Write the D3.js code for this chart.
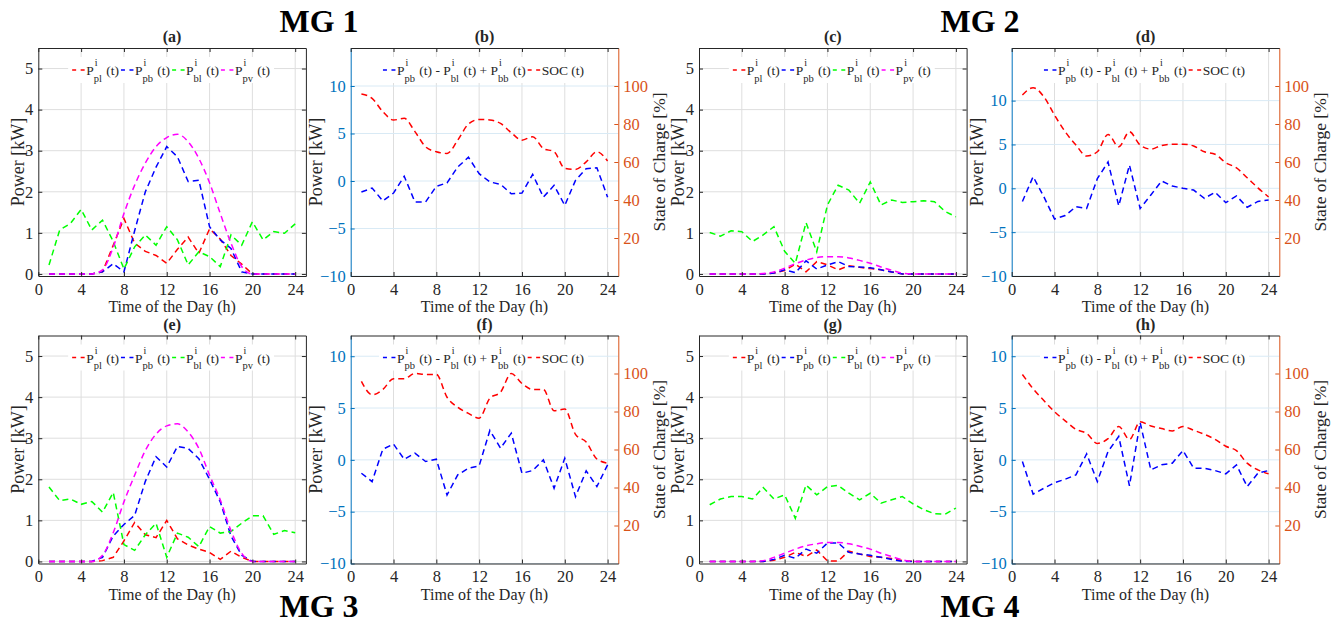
<!DOCTYPE html>
<html>
<head>
<meta charset="utf-8">
<script src="https://cdn.jsdelivr.net/npm/d3@7"></script>
<style>
  body { margin: 0; background: #fff; }
  svg { display: block; font-family: "Liberation Serif", "Times New Roman", serif; }
</style>
</head>
<body>
<div id="chart"></div>
<script>
// hours and tick values
const hours = d3.range(1, 25);
const hourTicks = [0, 4, 8, 12, 16, 20, 24];
const powerTicks = [0, 1, 2, 3, 4, 5];
const netTicks = [-10, -5, 0, 5, 10];
const socTicks = [20, 40, 60, 80, 100];

// MG 1
const mg1Pl = [0, 0, 0, 0, 0, 0.05, 0.7, 1.35, 0.75, 0.55, 0.45, 0.26, 0.6, 0.9, 0.5, 1.1, 0.85, 0.45, 0.24, 0, 0, 0, 0, 0];
const mg1Pb = [0, 0, 0, 0, 0, 0.05, 0.25, 0.05, 1.05, 2.0, 2.6, 3.1, 2.85, 2.25, 2.28, 1.15, 0.83, 0.62, 0.05, 0, 0, 0, 0, 0];
const mg1Bl = [0.22, 1.07, 1.23, 1.57, 1.07, 1.31, 0.79, 0.12, 0.66, 0.95, 0.7, 1.15, 0.83, 0.22, 0.54, 0.42, 0.18, 0.95, 0.7, 1.27, 0.83, 1.03, 0.99, 1.22];
const mg1Pv = [0, 0, 0, 0, 0, 0.1, 0.65, 1.47, 2.16, 2.7, 3.1, 3.32, 3.4, 3.22, 2.81, 2.22, 1.47, 0.75, 0.18, 0, 0, 0, 0, 0];
const mg1Net = [-1.16, -0.74, -2.1, -1.27, 0.5, -2.2, -2.2, -0.56, -0.2, 1.48, 2.5, 0.77, -0.1, -0.35, -1.34, -1.27, 0.7, -1.7, -0.46, -2.57, 0.07, 1.3, 1.4, -1.7];
const mg1Soc = [95.8, 93.5, 86.5, 82.1, 83, 76, 68, 65.4, 64.5, 71.5, 80, 82.4, 82.1, 80.3, 75.4, 71.5, 73.3, 67.1, 65.4, 56.6, 56.1, 60.1, 65.4, 60.5];

// MG 2
const mg2Pl = [0, 0, 0, 0, 0, 0, 0.02, 0.08, 0.24, 0.05, 0.3, 0.22, 0.1, 0.2, 0.16, 0.13, 0.1, 0.05, 0, 0, 0, 0, 0, 0];
const mg2Pb = [0, 0, 0, 0, 0, 0, 0.02, 0.1, 0.03, 0.32, 0.12, 0.22, 0.3, 0.18, 0.17, 0.15, 0.1, 0.05, 0, 0, 0, 0, 0, 0];
const mg2Bl = [1.01, 0.92, 1.05, 1.03, 0.79, 0.95, 1.15, 0.55, 0.26, 1.25, 0.54, 1.68, 2.16, 2.04, 1.72, 2.24, 1.68, 1.8, 1.74, 1.76, 1.78, 1.76, 1.52, 1.39];
const mg2Pv = [0, 0, 0, 0, 0, 0.01, 0.05, 0.14, 0.25, 0.34, 0.4, 0.42, 0.42, 0.39, 0.33, 0.26, 0.17, 0.09, 0.02, 0, 0, 0, 0, 0];
const mg2Net = [-1.5, 1.33, -0.95, -3.5, -3.1, -2.1, -2.3, 1.1, 3.0, -2.0, 2.65, -2.3, -0.76, 0.83, 0.27, 0, -0.2, -1.14, -0.45, -1.63, -0.87, -2.16, -1.5, -1.33];
const mg2Soc = [95.3, 99.1, 94.4, 84.7, 75.9, 68.9, 63.1, 65.4, 74.5, 68, 75.9, 68.9, 66.8, 68.7, 69.4, 69.4, 68.4, 65.4, 64.1, 59.6, 56.9, 51.7, 46.4, 41.6];

// MG 3
const mg3Pl = [0, 0, 0, 0, 0, 0.02, 0.1, 0.5, 0.95, 0.65, 0.58, 1.0, 0.55, 0.4, 0.3, 0.22, 0.05, 0.25, 0.1, 0, 0, 0, 0, 0];
const mg3Pb = [0, 0, 0, 0, 0, 0.1, 0.62, 0.9, 1.12, 1.95, 2.55, 2.3, 2.8, 2.75, 2.5, 2.0, 1.45, 0.62, 0.15, 0, 0, 0, 0, 0];
const mg3Bl = [1.81, 1.48, 1.52, 1.39, 1.46, 1.2, 1.68, 0.41, 0.27, 0.65, 0.93, 0.1, 0.69, 0.59, 0.36, 0.85, 0.69, 0.73, 0.93, 1.11, 1.11, 0.66, 0.75, 0.7];
const mg3Pv = [0, 0, 0, 0, 0, 0.15, 0.7, 1.45, 2.1, 2.7, 3.1, 3.3, 3.35, 3.15, 2.75, 2.1, 1.5, 0.75, 0.2, 0, 0, 0, 0, 0];
const mg3Net = [-1.29, -2.1, 1.03, 1.52, 0.06, 0.65, -0.16, 0.06, -3.39, -1.45, -0.8, -0.58, 2.84, 1.13, 2.58, -1.29, -1.03, 0, -2.74, 0.16, -3.55, -1.06, -2.58, -0.48];
const mg3Soc = [95.9, 88.8, 91.6, 97.3, 97.3, 100, 99.5, 99.5, 87.5, 82.2, 79, 76.5, 87, 90.2, 100, 94.7, 91.6, 91.6, 80.4, 81.3, 68, 63.9, 55, 52.8];

// MG 4
const mg4Pl = [0, 0, 0, 0, 0, 0, 0.03, 0.1, 0.22, 0.12, 0.28, 0.01, 0.01, 0.25, 0.18, 0.12, 0.1, 0.07, 0.02, 0, 0, 0, 0, 0];
const mg4Pb = [0, 0, 0, 0, 0, 0, 0.05, 0.15, 0.08, 0.3, 0.2, 0.45, 0.45, 0.22, 0.18, 0.15, 0.1, 0.05, 0, 0, 0, 0, 0, 0];
const mg4Bl = [1.38, 1.52, 1.58, 1.58, 1.52, 1.8, 1.52, 1.62, 1.05, 1.86, 1.62, 1.82, 1.85, 1.66, 1.5, 1.66, 1.42, 1.5, 1.58, 1.4, 1.26, 1.16, 1.15, 1.3];
const mg4Pv = [0, 0, 0, 0, 0, 0.02, 0.1, 0.2, 0.3, 0.38, 0.43, 0.46, 0.46, 0.43, 0.37, 0.3, 0.2, 0.12, 0.04, 0, 0, 0, 0, 0];
const mg4Net = [-0.16, -3.3, -2.74, -2.2, -1.87, -1.45, 0.58, -2.1, 0.8, 2.26, -2.5, 3.6, -0.97, -0.48, -0.32, 0.9, -0.8, -0.8, -1.03, -1.35, -0.48, -2.58, -1.29, -1.03];
const mg4Soc = [99.5, 92, 85.8, 79.9, 75.1, 70.6, 68.5, 63.2, 65.7, 72.1, 65.3, 74.6, 72.4, 71, 69.8, 72.1, 70.1, 68, 65.3, 61.7, 59.4, 52.8, 49.3, 47.2];

const W = 1343, H = 626;
const colLeft = [38.3, 350.7, 699, 1011.7];
const rowTop = [48, 335.5];
const plotW = 267.6, plotH = 228;

const ink = '#262626', blue = '#0072BD', orange = '#D95319';
const gridGray = '#dedede', gridBlue = '#d9eaf5';
const red = '#ff0000', pureBlue = '#0000ff', green = '#00ff00', magenta = '#ff00ff';
const dash = '6,4';
const intFmt = d3.format('d');

const svg = d3.select('#chart').append('svg')
    .attr('width', W)
    .attr('height', H);

svg.append('rect').attr('width', W).attr('height', H).attr('fill', '#fff');

function styleAxis(g, color, size) {
    g.attr('font-family', null).attr('font-size', size || 16);
    g.select('.domain').attr('stroke', color);
    g.selectAll('.tick line').attr('stroke', color);
    g.selectAll('.tick text').attr('fill', color);
}

function addText(g, x, y, str, size, extra) {
    const t = g.append('text')
        .attr('x', x).attr('y', y)
        .attr('font-size', size)
        .attr('fill', ink)
        .style('white-space', 'pre')
        .text(str);
    if (extra) extra(t);
    return t;
}

// legend with P^i_sub style entries and white background
function legend(g, cx, cy, entries) {
    const lg = g.append('g');
    const bg = lg.append('rect').attr('fill', '#fff');
    let cur = 0;
    entries.forEach(e => {
        lg.append('line')
            .attr('x1', cur).attr('x2', cur + 13)
            .attr('y1', 0).attr('y2', 0)
            .attr('stroke', e.color).attr('stroke-width', 1.5)
            .attr('stroke-dasharray', '4,4.5');
        cur += 14;
        e.parts.forEach(p => {
            if (typeof p === 'string') {
                const t = addText(lg, cur, 5, p, 13.5);
                cur += t.node().getComputedTextLength();
            } else {
                const t = addText(lg, cur, 5, 'P', 13.5);
                cur += t.node().getComputedTextLength();
                const s1 = addText(lg, cur + 1, -4, p.sup, 10);
                const s2 = addText(lg, cur, 11.5, p.sub, 10.5);
                cur += Math.max(s1.node().getComputedTextLength() + 1, s2.node().getComputedTextLength()) + 1;
            }
        });
        cur += 2;
    });
    bg.attr('x', -4).attr('y', -13).attr('width', cur + 6).attr('height', 26);
    lg.attr('transform', `translate(${cx - cur / 2},${cy})`);
}

function frame(g, x, title, yOffset) {
    const bottom = g.append('g').attr('transform', `translate(0,${plotH})`)
        .call(d3.axisBottom(x).tickValues(hourTicks).tickFormat(intFmt).tickSize(-4).tickSizeOuter(0).tickPadding(7));
    styleAxis(bottom, ink, 16.5);
    const top = g.append('g')
        .call(d3.axisTop(x).tickValues(hourTicks).tickSize(-4).tickSizeOuter(0).tickFormat(''));
    styleAxis(top, ink);
    addText(g, plotW / 2, -6, title, 16, t => t.attr('text-anchor', 'middle').attr('font-weight', 'bold'));
    addText(g, plotW / 2, plotH + 36, 'Time of the Day (h)', 16, t => t.attr('text-anchor', 'middle'));
    addText(g, 0, 0, 'Power [kW]', 18, t => t.attr('text-anchor', 'middle').attr('dy', '0.35em')
        .attr('transform', `translate(${-yOffset},${plotH / 2}) rotate(-90)`));
}

function powerPanel(col, row, title, pl, pb, bl, pv) {
    const g = svg.append('g').attr('transform', `translate(${colLeft[col]},${rowTop[row]})`);
    const x = d3.scaleLinear().domain([0, 25]).range([0, plotW]);
    const y = d3.scaleLinear().domain([-0.05, 5.5]).range([plotH, 0]);

    // grid
    g.append('g').selectAll('line').data(hourTicks.filter(d => d > 0)).join('line')
        .attr('x1', d => x(d)).attr('x2', d => x(d)).attr('y1', 0).attr('y2', plotH)
        .attr('stroke', gridGray);
    g.append('g').selectAll('line').data(powerTicks).join('line')
        .attr('x1', 0).attr('x2', plotW).attr('y1', d => y(d)).attr('y2', d => y(d))
        .attr('stroke', gridGray);

    const series = [
        { v: pl, c: red, curve: d3.curveLinear },
        { v: pb, c: pureBlue, curve: d3.curveLinear },
        { v: bl, c: green, curve: d3.curveLinear },
        { v: pv, c: magenta, curve: d3.curveMonotoneX }
    ];
    series.forEach(s => {
        g.append('path').datum(s.v)
            .attr('fill', 'none').attr('stroke', s.c).attr('stroke-width', 1.5)
            .attr('stroke-dasharray', dash)
            .attr('d', d3.line().x((d, i) => x(hours[i])).y(d => y(d)).curve(s.curve));
    });

    const left = g.append('g')
        .call(d3.axisLeft(y).tickValues(powerTicks).tickFormat(intFmt).tickSize(-4).tickSizeOuter(0).tickPadding(5));
    styleAxis(left, ink, 16.5);
    const right = g.append('g').attr('transform', `translate(${plotW},0)`)
        .call(d3.axisRight(y).tickValues(powerTicks).tickSize(-4).tickSizeOuter(0).tickFormat(''));
    styleAxis(right, ink);

    frame(g, x, title, 21);

    legend(g, plotW / 2, 22, [
        { color: red, parts: [{ sup: 'i', sub: 'pl' }, ' (t)'] },
        { color: pureBlue, parts: [{ sup: 'i', sub: 'pb' }, ' (t)'] },
        { color: green, parts: [{ sup: 'i', sub: 'bl' }, ' (t)'] },
        { color: magenta, parts: [{ sup: 'i', sub: 'pv' }, ' (t)'] }
    ]);
}

function netPanel(col, row, title, netMax, net, soc) {
    const g = svg.append('g').attr('transform', `translate(${colLeft[col]},${rowTop[row]})`);
    const x = d3.scaleLinear().domain([0, 25]).range([0, plotW]);
    const y = d3.scaleLinear().domain([-10, netMax]).range([plotH, 0]);
    const y2 = d3.scaleLinear().domain([0, 120]).range([plotH, 0]);

    g.append('g').selectAll('line').data(hourTicks.filter(d => d > 0)).join('line')
        .attr('x1', d => x(d)).attr('x2', d => x(d)).attr('y1', 0).attr('y2', plotH)
        .attr('stroke', gridGray);
    g.append('g').selectAll('line').data(netTicks).join('line')
        .attr('x1', 0).attr('x2', plotW).attr('y1', d => y(d)).attr('y2', d => y(d))
        .attr('stroke', gridBlue);

    g.append('path').datum(net)
        .attr('fill', 'none').attr('stroke', pureBlue).attr('stroke-width', 1.5)
        .attr('stroke-dasharray', dash)
        .attr('d', d3.line().x((d, i) => x(hours[i])).y(d => y(d)));
    g.append('path').datum(soc)
        .attr('fill', 'none').attr('stroke', red).attr('stroke-width', 1.5)
        .attr('stroke-dasharray', dash)
        .attr('d', d3.line().x((d, i) => x(hours[i])).y(d => y2(d)).curve(d3.curveMonotoneX));

    const left = g.append('g')
        .call(d3.axisLeft(y).tickValues(netTicks).tickFormat(intFmt).tickSize(-4).tickSizeOuter(0).tickPadding(5));
    styleAxis(left, blue, 16.5);
    const right = g.append('g').attr('transform', `translate(${plotW},0)`)
        .call(d3.axisRight(y2).tickValues(socTicks).tickFormat(intFmt).tickSize(-4).tickSizeOuter(0).tickPadding(5));
    styleAxis(right, orange, 16.5);

    frame(g, x, title, 35);

    addText(g, 0, 0, 'State of Charge [%]', 17.5, t => t.attr('text-anchor', 'middle').attr('dy', '0.35em')
        .attr('transform', `translate(${plotW + 41},${plotH / 2}) rotate(-90)`));

    legend(g, plotW / 2, 22, [
        { color: pureBlue, parts: [{ sup: 'i', sub: 'pb' }, ' (t) - ', { sup: 'i', sub: 'bl' }, ' (t) + ', { sup: 'i', sub: 'bb' }, ' (t)'] },
        { color: red, parts: ['SOC (t)'] }
    ]);
}

powerPanel(0, 0, '(a)', mg1Pl, mg1Pb, mg1Bl, mg1Pv);
netPanel(1, 0, '(b)', 14, mg1Net, mg1Soc);
powerPanel(2, 0, '(c)', mg2Pl, mg2Pb, mg2Bl, mg2Pv);
netPanel(3, 0, '(d)', 16, mg2Net, mg2Soc);
powerPanel(0, 1, '(e)', mg3Pl, mg3Pb, mg3Bl, mg3Pv);
netPanel(1, 1, '(f)', 12, mg3Net, mg3Soc);
powerPanel(2, 1, '(g)', mg4Pl, mg4Pb, mg4Bl, mg4Pv);
netPanel(3, 1, '(h)', 12, mg4Net, mg4Soc);

// big microgrid labels
[['MG 1', 319, 32], ['MG 2', 980, 32], ['MG 3', 319, 617], ['MG 4', 980, 617]].forEach(m => {
    addText(svg, m[1], m[2], m[0], 32, t => t.attr('text-anchor', 'middle').attr('font-weight', 'bold').attr('fill', '#000'));
});
</script>
</body>
</html>
